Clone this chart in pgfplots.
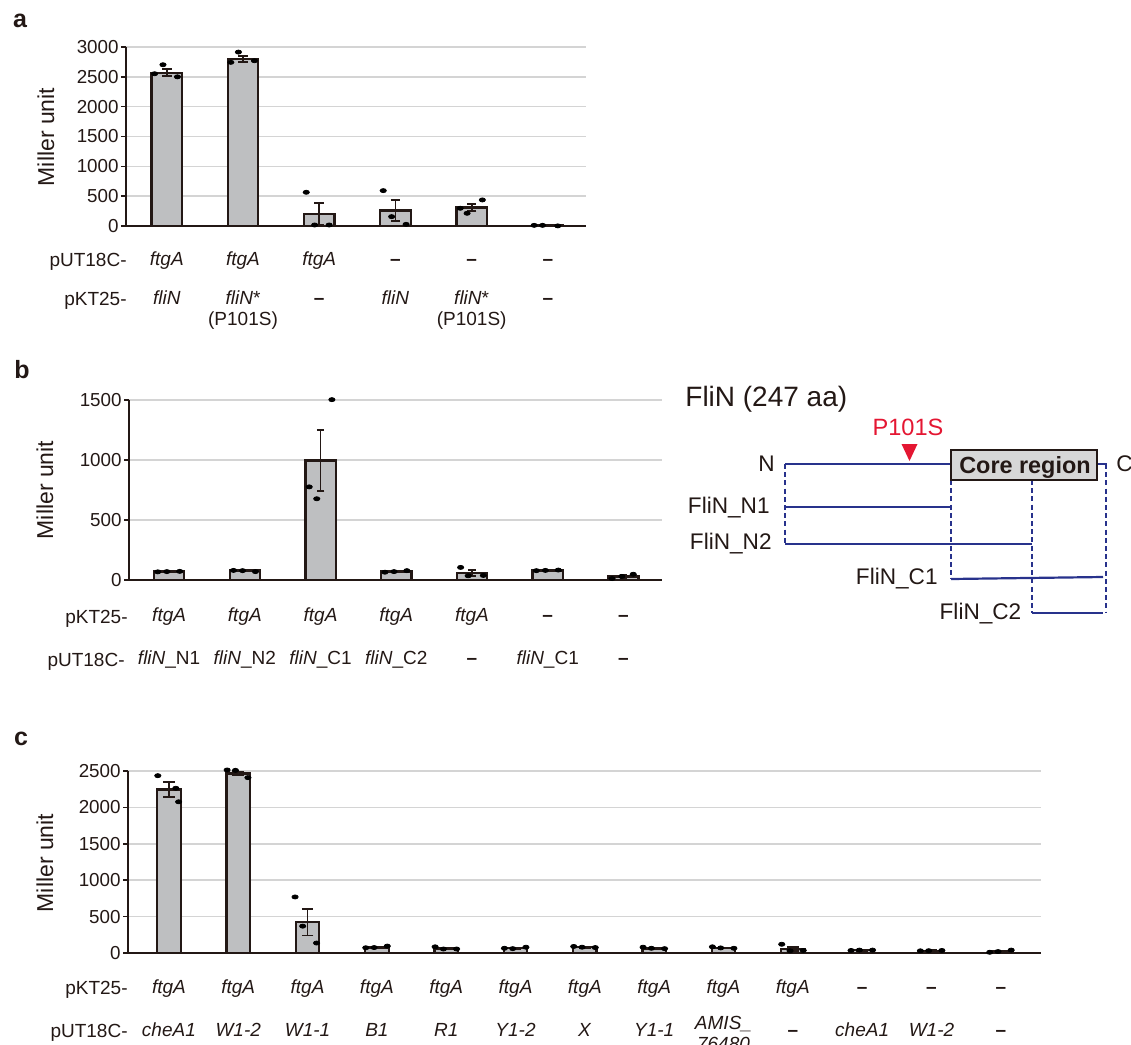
\documentclass[border=0pt]{standalone}
\usepackage{pgfplots}
\pgfplotsset{compat=1.18}
\usepackage{fontspec}
\setmainfont{Liberation Sans}
\definecolor{axisc}{RGB}{35,24,21}
\definecolor{barc}{RGB}{190,191,193}
\definecolor{gridc}{RGB}{212,212,212}
\definecolor{navy}{RGB}{40,50,140}
\definecolor{redc}{RGB}{228,22,50}
\definecolor{boxc}{RGB}{215,215,215}
\newcommand\lab{\fontsize{9.5}{11}\selectfont}
\newcommand\dsh{\textbf{--}}
\pgfplotsset{
  mystyle/.style={
    scale only axis, anchor=south west, clip=false,
    axis x line*=bottom, axis y line*=left,
    axis line style={-, line width=1pt, draw=axisc},
    ymin=0,
    major x tick style={draw=none},
    ytick style={draw=axisc, line width=0.8pt},
    tick align=outside, major tick length=2.5pt,
    ymajorgrids, grid style={draw=gridc, line width=0.8pt},
    yticklabel style={font=\fontsize{9.4}{11}\selectfont, inner sep=1pt, text=axisc},
    /pgf/number format/assume math mode=true,
    /pgf/number format/1000 sep={},
    xticklabel style={font=\lab, anchor=north, align=center, inner sep=0pt, text=axisc},
  },
  barsty/.style={ybar, bar shift=0pt, fill=barc, draw=axisc, line width=1.15pt,
    error bars/y dir=both, error bars/y explicit,
    error bars/error bar style={line width=0.9pt, draw=axisc},
    error bars/error mark options={rotate=90, mark size=#1, line width=0.9pt, draw=axisc}},
  dotsty/.style={only marks, mark=*, mark size=1.35pt, mark options={fill=black, draw=black, xscale=1.15, yscale=0.75}},
}
\begin{document}
\begin{tikzpicture}
\path[use as bounding box] (0,0) rectangle (565.5pt,-522.5pt);

% ---------------- Panel a ----------------
\begin{axis}[mystyle, at={(63pt,-113pt)}, width=230pt, height=89.5pt,
  xmin=-0.535, xmax=5.5, ymax=3000, ytick={0,500,...,3000},
  xtick={0,...,5}, xticklabel style={yshift=-9.2pt},
  xticklabels={
   {\strut\textit{ftgA}\\[8.5pt]\strut\textit{fliN}},
   {\strut\textit{ftgA}\\[8.5pt]\strut\textit{fliN}*\\[-0.5pt]\strut(P101S)},
   {\strut\textit{ftgA}\\[8.5pt]\strut\dsh},
   {\strut\dsh\\[8.5pt]\strut\textit{fliN}},
   {\strut\dsh\\[8.5pt]\strut\textit{fliN}*\\[-0.5pt]\strut(P101S)},
   {\strut\dsh\\[8.5pt]\strut\dsh}}]
\addplot[barsty=2.4pt, bar width=0.40] coordinates {
 (0,2570) +- (0,58) (1,2795) +- (0,50) (2,200) +- (0,186)
 (3,260) +- (0,170) (4,310) +- (0,65) (5,8) +- (0,3)};
\addplot[dotsty] coordinates {
 (-0.16,2552) (-0.05,2703) (0.14,2500)
 (0.84,2743) (0.94,2915) (1.15,2770)
 (1.83,565) (1.94,17) (2.13,17)
 (2.84,593) (2.95,157) (3.14,28)
 (3.85,297) (3.94,213) (4.14,437)
 (4.82,11) (4.93,11) (5.13,2)};
\end{axis}

% ---------------- Panel b ----------------
\begin{axis}[mystyle, at={(64.5pt,-290pt)}, width=266.5pt, height=90pt,
  xmin=-0.53, xmax=6.51, ymax=1500, ytick={0,500,1000,1500},
  xtick={0,...,6}, xticklabel style={yshift=-10.2pt},
  xticklabels={
   {\strut\textit{ftgA}\\[10.5pt]\strut\textit{fliN}\_N1},
   {\strut\textit{ftgA}\\[10.5pt]\strut\textit{fliN}\_N2},
   {\strut\textit{ftgA}\\[10.5pt]\strut\textit{fliN}\_C1},
   {\strut\textit{ftgA}\\[10.5pt]\strut\textit{fliN}\_C2},
   {\strut\textit{ftgA}\\[10.5pt]\strut\dsh},
   {\strut\dsh\\[10.5pt]\strut\textit{fliN}\_C1},
   {\strut\dsh\\[10.5pt]\strut\dsh}}]
\addplot[barsty=1.9pt, bar width=0.40] coordinates {
 (0,70) +- (0,3) (1,78) +- (0,4) (2,997) +- (0,255) (3,72) +- (0,4)
 (4,60) +- (0,25) (5,80) +- (0,3) (6,28) +- (0,11)};
\addplot[dotsty] coordinates {
 (-0.15,68) (-0.03,70) (0.14,72)
 (0.85,80) (0.97,78) (1.14,70)
 (1.85,776) (1.95,677) (2.15,1503)
 (2.85,65) (2.97,70) (3.14,78)
 (3.85,105) (3.95,35) (4.15,38)
 (4.85,78) (4.97,80) (5.14,83)
 (5.85,12) (5.98,30) (6.13,48)};
\end{axis}

% ---------------- Panel c ----------------
\begin{axis}[mystyle, at={(64pt,-476.5pt)}, width=456.5pt, height=91pt,
  xmin=-0.59, xmax=12.58, ymax=2500, ytick={0,500,...,2500},
  xtick={0,...,12}, xticklabel style={yshift=-9.7pt},
  xticklabels={
   {\strut\textit{ftgA}\\[10.5pt]\strut\textit{cheA1}},
   {\strut\textit{ftgA}\\[10.5pt]\strut\textit{W1-2}},
   {\strut\textit{ftgA}\\[10.5pt]\strut\textit{W1-1}},
   {\strut\textit{ftgA}\\[10.5pt]\strut\textit{B1}},
   {\strut\textit{ftgA}\\[10.5pt]\strut\textit{R1}},
   {\strut\textit{ftgA}\\[10.5pt]\strut\textit{Y1-2}},
   {\strut\textit{ftgA}\\[10.5pt]\strut\textit{X}},
   {\strut\textit{ftgA}\\[10.5pt]\strut\textit{Y1-1}},
   {\strut\textit{ftgA}\\[7pt]\strut\textit{AMIS\_}\\[-0.5pt]\strut\textit{76480}},
   {\strut\textit{ftgA}\\[10.5pt]\strut\dsh},
   {\strut\dsh\\[10.5pt]\strut\textit{cheA1}},
   {\strut\dsh\\[10.5pt]\strut\textit{W1-2}},
   {\strut\dsh\\[10.5pt]\strut\dsh}}]
\addplot[barsty=2.9pt, bar width=0.34] coordinates {
 (0,2245) +- (0,100) (1,2465) +- (0,25) (2,425) +- (0,185) (3,75) +- (0,8)
 (4,60) +- (0,8) (5,65) +- (0,6) (6,80) +- (0,6) (7,63) +- (0,6)
 (8,70) +- (0,6) (9,55) +- (0,30) (10,38) +- (0,5) (11,32) +- (0,5) (12,22) +- (0,10)};
\addplot[dotsty] coordinates {
 (-0.16,2436) (0.10,2263) (0.14,2077)
 (0.84,2514) (0.96,2509) (1.14,2409)
 (1.82,770) (1.93,369) (2.13,137)
 (2.84,72) (2.96,75) (3.15,95)
 (3.84,85) (3.96,55) (4.15,55)
 (4.84,65) (4.96,60) (5.15,80)
 (5.84,90) (5.96,80) (6.15,75)
 (6.84,80) (6.96,65) (7.15,60)
 (7.84,85) (7.96,70) (8.15,65)
 (8.84,120) (8.96,30) (9.15,35)
 (9.84,35) (9.96,40) (10.15,40)
 (10.84,30) (10.96,32) (11.15,35)
 (11.84,10) (11.96,20) (12.15,40)};
\end{axis}

% ---------------- texts and diagram (pixel coordinates) ----------------
\begin{scope}[x=0.5pt, y=-0.5pt, every node/.style={text=axisc, inner sep=0pt}]
 % panel letters
 \node[font=\fontsize{12.5}{14}\selectfont\bfseries] at (20,21) {a};
 \node[font=\fontsize{12.5}{14}\selectfont\bfseries] at (22,370) {b};
 \node[font=\fontsize{12.5}{14}\selectfont\bfseries] at (21,739) {c};
 % y labels
 \node[font=\fontsize{11.5}{13}\selectfont, rotate=90] at (46,137) {Miller unit};
 \node[font=\fontsize{11.5}{13}\selectfont, rotate=90] at (45,490) {Miller unit};
 \node[font=\fontsize{11.5}{13}\selectfont, rotate=90] at (45,863) {Miller unit};
 % row labels
 \node[font=\lab, anchor=base east] at (127,266.8) {pUT18C-};
 \node[font=\lab, anchor=base east] at (127,305.8) {pKT25-};
 \node[font=\lab, anchor=base east] at (128,623.8) {pKT25-};
 \node[font=\lab, anchor=base east] at (125,666.8) {pUT18C-};
 \node[font=\lab, anchor=base east] at (128,994.8) {pKT25-};
 \node[font=\lab, anchor=base east] at (128,1037.8) {pUT18C-};

 % diagram
 \node[font=\fontsize{14}{16}\selectfont, anchor=base west] at (685,406.7) {FliN (247 aa)};
 \node[font=\fontsize{11.8}{14}\selectfont, anchor=base, text=redc] at (908,435) {P101S};
 \fill[redc] (901.5,444) -- (917.5,444) -- (909.5,461) -- cycle;
 \draw[navy, line width=0.55pt, dash pattern=on 2.5pt off 1.6pt]
   (785,464) -- (785,544)
   (951,480) -- (951,579)
   (1032,480) -- (1032,613)
   (1106,464) -- (1106,613);
 \draw[navy, line width=1.1pt] (785,464) -- (951,464);
 \draw[navy, line width=1.1pt] (1097,464) -- (1107,464);
 \draw[axisc, fill=boxc, line width=1.2pt] (951,450) rectangle (1097,480);
 \node[font=\fontsize{11.7}{14}\selectfont\bfseries, anchor=base] at (1025,473) {Core region};
 \draw[navy, line width=1.1pt] (785,507) -- (951,507);
 \draw[navy, line width=1.1pt] (785,544) -- (1032,544);
 \draw[navy, line width=1.1pt] (951,579) -- (1103,577);
 \draw[navy, line width=1.1pt] (1032,613) -- (1103,613);
 \node[font=\fontsize{11.3}{13}\selectfont, anchor=base east] at (775,471.7) {N};
 \node[font=\fontsize{11.3}{13}\selectfont, anchor=base west] at (1116,471.7) {C};
 \node[font=\fontsize{11.3}{13}\selectfont, anchor=base east] at (770,513) {FliN\_N1};
 \node[font=\fontsize{11.3}{13}\selectfont, anchor=base east] at (772,549) {FliN\_N2};
 \node[font=\fontsize{11.3}{13}\selectfont, anchor=base east] at (938,584) {FliN\_C1};
 \node[font=\fontsize{11.3}{13}\selectfont, anchor=base east] at (1021.7,619) {FliN\_C2};
\end{scope}
\end{tikzpicture}
\end{document}
